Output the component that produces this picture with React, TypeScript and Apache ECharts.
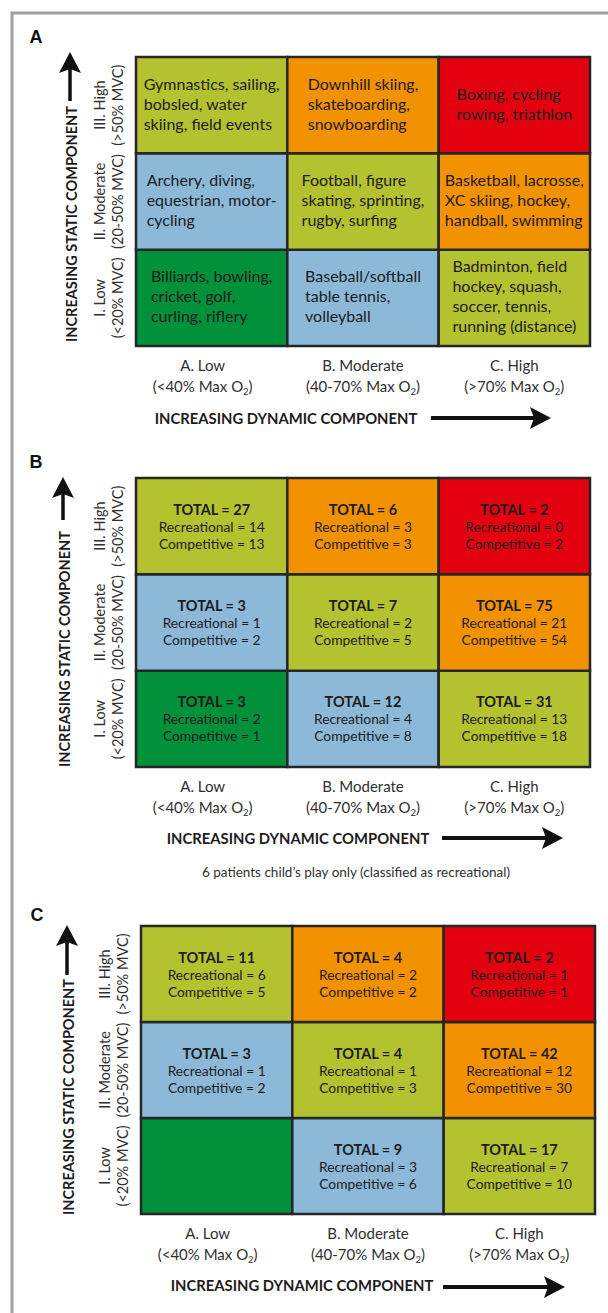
import React, { useEffect, useRef } from 'react';
import * as echarts from 'echarts';

// ---------- Data ----------
const dynamicLevels = ['A. Low', 'B. Moderate', 'C. High'];
const dynamicRanges = ['(<40% Max O2)', '(40-70% Max O2)', '(>70% Max O2)'];
const staticLevels = ['I. Low', 'II. Moderate', 'III. High'];
const staticRanges = ['(<20% MVC)', '(20-50% MVC)', '(>50% MVC)'];

// Panel A – sports (columns: dynamic Low, Moderate, High)
const sportsLowStatic = [
  'Billiards, bowling,\ncricket, golf,\ncurling, riflery',
  'Baseball/softball\ntable tennis,\nvolleyball',
  'Badminton, field\nhockey, squash,\nsoccer, tennis,\nrunning (distance)',
];
const sportsModerateStatic = [
  'Archery, diving,\nequestrian, motor-\ncycling',
  'Football, figure\nskating, sprinting,\nrugby, surfing',
  'Basketball, lacrosse,\nXC skiing, hockey,\nhandball, swimming',
];
const sportsHighStatic = [
  'Gymnastics, sailing,\nbobsled, water\nskiing, field events',
  'Downhill skiing,\nskateboarding,\nsnowboarding',
  'Boxing, cycling\nrowing, triathlon',
];

// Panel B – counts (rows: static Low, Moderate, High; columns: dynamic Low, Moderate, High)
const totalB = [[3, 12, 31], [3, 7, 75], [27, 6, 2]];
const recreationalB = [[2, 4, 13], [1, 2, 21], [14, 3, 0]];
const competitiveB = [[1, 8, 18], [2, 5, 54], [13, 3, 2]];

// Panel C – counts
const totalC = [[null, 9, 17], [3, 4, 42], [11, 4, 2]];
const recreationalC = [[null, 3, 7], [1, 1, 12], [6, 2, 1]];
const competitiveC = [[null, 6, 10], [2, 3, 30], [5, 2, 1]];

const panelLetters = ['A', 'B', 'C'];
const xTitle = 'INCREASING DYNAMIC COMPONENT';
const yTitle = 'INCREASING STATIC COMPONENT';
const footnote = '6 patients child\u2019s play only (classified as recreational)';

// ---------- Styles ----------
const GREEN = '#00913a';
const BLUE = '#8cb9d7';
const LIME = '#b4c230';
const ORANGE = '#f39200';
const RED = '#e3000f';
const CELL_COLORS = [
  [GREEN, BLUE, LIME],
  [BLUE, LIME, ORANGE],
  [LIME, ORANGE, RED],
];
const BORDER = '#262626';
const TEXT = '#1e1b1c';
const LABEL = '#303030';
const FONT = 'Lato, "Open Sans", sans-serif';
const COL_SHIFT = [18, 0, 0]; // extra right padding on first column labels (shifts them left)

const LAYOUT = [
  { grid: { left: 136, top: 57, width: 454, height: 289 }, letter: [36, 37], yT: [71, 224], vA: [70, 52, 101], xT: [286, 418], hA: [418, 431, 551] },
  { grid: { left: 136, top: 478, width: 454, height: 289 }, letter: [36, 462], yT: [64, 649], vA: [63, 477, 520], xT: [298, 838], hA: [838, 442, 563] },
  { grid: { left: 141, top: 926, width: 454, height: 288 }, letter: [37, 915], yT: [68, 1097], vA: [67, 925, 975], xT: [302, 1285], hA: [1287, 443, 565] },
];

let measureCtx: CanvasRenderingContext2D | null = null;
function textWidth(s: string, font: string) {
  if (!measureCtx) measureCtx = document.createElement('canvas').getContext('2d');
  measureCtx!.font = font;
  return measureCtx!.measureText(s).width;
}

function cellData() {
  const d: number[][] = [];
  for (let r = 0; r < staticLevels.length; r++) {
    for (let c = 0; c < dynamicLevels.length; c++) d.push([c, r]);
  }
  return d;
}

function buildOption() {
  const sportsA = [sportsLowStatic, sportsModerateStatic, sportsHighStatic];
  const counts = [
    null,
    { t: totalB, r: recreationalB, c: competitiveB },
    { t: totalC, r: recreationalC, c: competitiveC },
  ];
  const data = cellData();
  const grids: any[] = [];
  const xAxes: any[] = [];
  const yAxes: any[] = [];
  const series: any[] = [];
  const graphics: any[] = [];

  // outer frame
  graphics.push({
    type: 'rect', silent: true, z: 0,
    shape: { x: 12, y: 13, width: 700, height: 1400 },
    style: { fill: 'none', stroke: '#a0a0a0', lineWidth: 3 },
  });

  LAYOUT.forEach((L, p) => {
    grids.push({ ...L.grid, outerBoundsMode: 'none', containLabel: false });
    xAxes.push({
      type: 'category', gridIndex: p, data: dynamicLevels,
      axisLine: { show: false }, axisTick: { show: false }, splitLine: { show: false },
      axisLabel: {
        interval: 0, margin: 8,
        formatter: (v: string, i: number) => {
          const rng = dynamicRanges[i];
          const k = rng.lastIndexOf('2');
          const e = COL_SHIFT[i] ? 'e' : 'a';
          return `{${e}|${v}}\n{a|${rng.slice(0, k)}}{s|2}{${e}|${rng.slice(k + 1)}}`;
        },
        rich: {
          a: { fontFamily: FONT, fontSize: 15, lineHeight: 21, color: LABEL },
          e: { fontFamily: FONT, fontSize: 15, lineHeight: 21, color: LABEL, padding: [0, COL_SHIFT[0], 0, 0] },
          s: { fontFamily: FONT, fontSize: 9.5, lineHeight: 10, color: LABEL, verticalAlign: 'bottom' },
        },
      },
    });
    yAxes.push({
      type: 'category', gridIndex: p, data: staticLevels,
      axisLine: { show: false }, axisTick: { show: false }, splitLine: { show: false },
      axisLabel: {
        interval: 0, margin: 10, rotate: 90,
        fontFamily: FONT, fontSize: 14.5, lineHeight: 18, color: LABEL,
        formatter: (v: string, i: number) => `${v}\n${staticRanges[i]}`,
      },
    });

    const cellFont = `16px ${FONT}`;
    series.push({
      type: 'custom', xAxisIndex: p, yAxisIndex: p, coordinateSystem: 'cartesian2d',
      clip: false, data,
      renderItem: (params: any, api: any) => {
        const [col, row] = data[params.dataIndex];
        const [cx, cy] = api.coord([col, row]);
        const [w, h] = api.size([1, 1]);
        const children: any[] = [{
          type: 'rect',
          shape: { x: cx - w / 2, y: cy - h / 2, width: w, height: h },
          style: { fill: CELL_COLORS[row][col], stroke: BORDER, lineWidth: 2.5 },
        }];
        if (p === 0) {
          const txt = sportsA[row][col];
          const maxW = Math.max(...txt.split('\n').map((l) => textWidth(l, cellFont)));
          children.push({
            type: 'text', x: cx - maxW / 2, y: cy - 2,
            style: { text: txt, fill: TEXT, fontFamily: FONT, fontSize: 16, lineHeight: 20, align: 'left', verticalAlign: 'middle' },
          });
        } else {
          const cc = counts[p]!;
          const tot = cc.t[row][col];
          if (tot !== null && tot !== undefined) {
            children.push({
              type: 'text', x: cx, y: cy,
              style: {
                text: `{t|TOTAL = ${tot}}\n{r|Recreational = ${cc.r[row][col]}}\n{r|Competitive = ${cc.c[row][col]}}`,
                align: 'center', verticalAlign: 'middle', fill: TEXT,
                rich: {
                  t: { fontFamily: FONT, fontSize: 14.5, fontWeight: 'bold', lineHeight: 17, fill: TEXT },
                  r: { fontFamily: FONT, fontSize: 13.8, lineHeight: 17, fill: TEXT },
                },
              },
            });
          }
        }
        return { type: 'group', children };
      },
    });

    // panel letter
    graphics.push({
      type: 'text', x: L.letter[0], y: L.letter[1], silent: true,
      style: { text: panelLetters[p], fill: '#111', font: 'bold 18px "Liberation Sans", Arial, sans-serif', align: 'center', verticalAlign: 'middle' },
    });
    // y title
    graphics.push({
      type: 'text', x: L.yT[0], y: L.yT[1], rotation: Math.PI / 2, silent: true,
      style: { text: yTitle, fill: TEXT, fontFamily: FONT, fontWeight: 'bold', fontSize: 14.5, align: 'center', verticalAlign: 'middle' },
    });
    // vertical arrow
    const [vx, vTop, vBot] = L.vA;
    graphics.push({
      type: 'line', silent: true,
      shape: { x1: vx, y1: vBot, x2: vx, y2: vTop + 16 },
      style: { stroke: '#111', lineWidth: 3.5 },
    });
    graphics.push({
      type: 'polygon', silent: true,
      shape: { points: [[vx, vTop], [vx + 11, vTop + 21], [vx, vTop + 17], [vx - 11, vTop + 21]] },
      style: { fill: '#111' },
    });
    // x title
    graphics.push({
      type: 'text', x: L.xT[0], y: L.xT[1], silent: true,
      style: { text: xTitle, fill: TEXT, fontFamily: FONT, fontWeight: 'bold', fontSize: 14.8, align: 'center', verticalAlign: 'middle' },
    });
    // horizontal arrow
    const [hy, hx1, hx2] = L.hA;
    graphics.push({
      type: 'line', silent: true,
      shape: { x1: hx1, y1: hy, x2: hx2 - 16, y2: hy },
      style: { stroke: '#111', lineWidth: 4 },
    });
    graphics.push({
      type: 'polygon', silent: true,
      shape: { points: [[hx2, hy], [hx2 - 21, hy - 11], [hx2 - 17, hy], [hx2 - 21, hy + 11]] },
      style: { fill: '#111' },
    });
  });

  graphics.push({
    type: 'text', x: 356, y: 872, silent: true,
    style: { text: footnote, fill: LABEL, fontFamily: FONT, fontSize: 13.5, align: 'center', verticalAlign: 'middle' },
  });

  return {
    animation: false,
    backgroundColor: '#ffffff',
    grid: grids,
    xAxis: xAxes,
    yAxis: yAxes,
    series,
    graphic: { elements: graphics },
  };
}

export default function App() {
  const ref = useRef<HTMLDivElement>(null);
  useEffect(() => {
    const el = ref.current;
    if (!el) return;
    const chart = echarts.init(el, undefined, { renderer: 'svg' });
    chart.setOption(buildOption() as any);
    return () => chart.dispose();
  }, []);
  return (
    <div
      ref={ref}
      style={{ position: 'absolute', left: 0, top: 0, width: 608, height: 1313, background: '#fff' }}
    />
  );
}
